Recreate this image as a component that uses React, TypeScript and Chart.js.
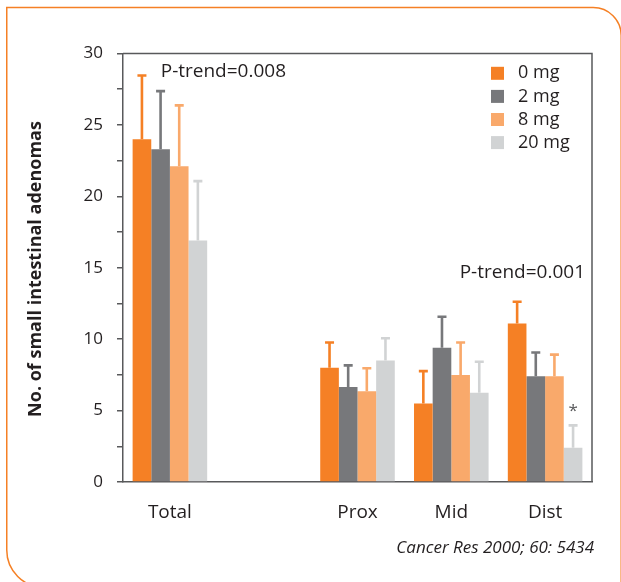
import React, { useEffect, useRef } from "react";
import { Chart, registerables } from "chart.js";

Chart.register(...registerables);

const categories = ["Total", "", "Prox", "Mid", "Dist"];
const seriesLabels = ["0 mg", "2 mg", "8 mg", "20 mg"];
const mean0mg = [24.0, null, 8.0, 5.5, 11.1];
const mean2mg = [23.3, null, 6.65, 9.4, 7.4];
const mean8mg = [22.1, null, 6.35, 7.5, 7.4];
const mean20mg = [16.9, null, 8.5, 6.25, 2.4];
const err0mg = [4.5, null, 1.8, 2.3, 1.55];
const err2mg = [4.1, null, 1.55, 2.2, 1.7];
const err8mg = [4.3, null, 1.65, 2.3, 1.55];
const err20mg = [4.2, null, 1.6, 2.2, 1.6];
const yTicksMajor = [0, 5, 10, 15, 20, 25, 30];

const colors = ["#F58025", "#77787B", "#F9A96B", "#D1D3D4"];
const FONT = "'Open Sans', sans-serif";
const TEXT = "#231F20";
const AXIS = "#58595B";

const overlay = {
  id: "overlay",
  beforeDraw(chart: any) {
    const ctx = chart.ctx;
    ctx.save();
    ctx.fillStyle = "#ffffff";
    ctx.fillRect(0, 0, chart.width, chart.height);
    ctx.strokeStyle = "#F58025";
    ctx.lineWidth = 1.5;
    const L = 6.75, T = 7.5, R = 621.2, B = 587.4;
    const rTR = 28, rBL = 37.4;
    ctx.beginPath();
    ctx.moveTo(L, B - rBL);
    ctx.lineTo(L, T);
    ctx.lineTo(R - rTR, T);
    ctx.arc(R - rTR, T + rTR, rTR, -Math.PI / 2, 0);
    ctx.lineTo(R, B + 20);
    ctx.moveTo(L, B - rBL);
    ctx.arc(L + rBL, B - rBL, rBL, Math.PI, Math.PI / 2, true);
    ctx.stroke();
    ctx.restore();
  },
  afterDatasetsDraw(chart: any) {
    const ctx = chart.ctx;
    const ys = chart.scales.y;
    const errs = [err0mg, err2mg, err8mg, err20mg];
    ctx.save();
    chart.data.datasets.forEach((ds: any, i: number) => {
      const meta = chart.getDatasetMeta(i);
      meta.data.forEach((el: any, j: number) => {
        const v = ds.data[j];
        const e = errs[i][j];
        if (v == null || e == null) return;
        const yT = ys.getPixelForValue(v + e);
        ctx.strokeStyle = colors[i];
        ctx.lineWidth = 2.6;
        ctx.beginPath();
        ctx.moveTo(el.x, el.y);
        ctx.lineTo(el.x, yT);
        ctx.moveTo(el.x - 4.5, yT + 0.5);
        ctx.lineTo(el.x + 4.5, yT + 0.5);
        ctx.stroke();
      });
    });
    ctx.restore();
  },
  afterDraw(chart: any) {
    const ctx = chart.ctx;
    const ca = chart.chartArea;
    const ys = chart.scales.y;
    ctx.save();
    ctx.strokeStyle = AXIS;
    ctx.lineWidth = 1.5;
    ctx.beginPath();
    ctx.moveTo(ca.left, ca.top);
    ctx.lineTo(ca.right, ca.top);
    ctx.lineTo(ca.right, ca.bottom);
    ctx.stroke();

    ctx.fillStyle = TEXT;
    ctx.font = `bold 18px ${FONT}`;
    ctx.textAlign = "center";
    ctx.textBaseline = "middle";
    ctx.save();
    ctx.translate(36, 269);
    ctx.rotate(-Math.PI / 2);
    ctx.fillText("No. of small intestinal adenomas", 0, 0);
    ctx.restore();

    ctx.font = `19px ${FONT}`;
    ctx.textAlign = "left";
    ctx.fillText("P-trend=0.008", 160.7, 72);
    ctx.textAlign = "right";
    ctx.fillText("P-trend=0.001", 585, 273);

    const m20 = chart.getDatasetMeta(3).data[4];
    ctx.textAlign = "center";
    ctx.font = `17px ${FONT}`;
    ctx.fillStyle = AXIS;
    ctx.fillText("*", m20.x, ys.getPixelForValue(mean20mg[4]! + err20mg[4]!) - 14);

    ctx.font = `18px ${FONT}`;
    ctx.textAlign = "left";
    seriesLabels.forEach((lab, i) => {
      const cy = 73.3 + i * 23.1;
      ctx.fillStyle = colors[i];
      ctx.fillRect(491, cy - 6.5, 13, 13);
      ctx.fillStyle = TEXT;
      ctx.fillText(lab, 518, cy);
    });

    ctx.font = `italic 17px ${FONT}`;
    ctx.textAlign = "right";
    ctx.fillStyle = TEXT;
    ctx.fillText("Cancer Res 2000; 60: 5434", 594, 548);
    ctx.restore();
  },
};

export default function App() {
  const ref = useRef<HTMLCanvasElement>(null);
  useEffect(() => {
    const canvas = ref.current!;
    const chart = new Chart(canvas, {
      type: "bar",
      data: {
        labels: categories,
        datasets: [mean0mg, mean2mg, mean8mg, mean20mg].map((d, i) => ({
          label: seriesLabels[i],
          data: d,
          backgroundColor: colors[i],
          borderWidth: 0,
          categoryPercentage: 0.795,
          barPercentage: 1.0,
        })),
      },
      options: {
        responsive: false,
        animation: false,
        devicePixelRatio: 1,
        layout: { padding: { left: 0, top: 53.5, right: 29, bottom: 0 } },
        plugins: { legend: { display: false }, tooltip: { enabled: false } },
        scales: {
          x: {
            grid: { display: false },
            border: { display: true, color: AXIS, width: 1.5 },
            ticks: { font: { family: FONT, size: 19 }, color: TEXT, padding: 11 },
            afterFit: (s: any) => { s.height = 100; },
          },
          y: {
            min: 0,
            max: 30,
            ticks: {
              stepSize: 2.5,
              font: { family: FONT, size: 17 },
              color: TEXT,
              padding: 14,
              callback: (v: any) => (yTicksMajor.includes(Number(v)) ? String(v) : ""),
            },
            grid: { drawOnChartArea: false, drawTicks: true, tickLength: 6, color: AXIS, lineWidth: 1.5 },
            border: { display: true, color: AXIS, width: 1.5 },
            afterFit: (s: any) => { s.width = 123; },
          },
        },
      },
      plugins: [overlay],
    });
    return () => chart.destroy();
  }, []);
  return (
    <div style={{ position: "absolute", left: 0, top: 0, width: 621, height: 582 }}>
      <canvas ref={ref} width={621} height={582} />
    </div>
  );
}
